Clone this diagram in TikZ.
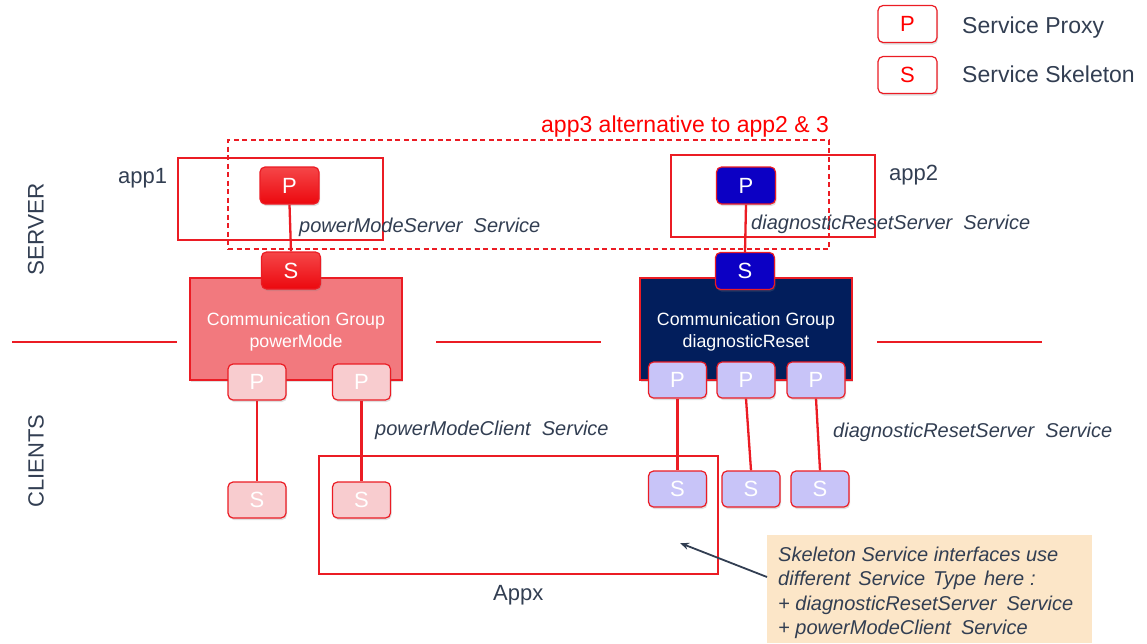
\documentclass[tikz,border=0pt]{standalone}
\usepackage{fontspec}
\setmainfont{Liberation Sans}
\usetikzlibrary{shadows,arrows.meta}
\definecolor{myred}{RGB}{235,28,36}
\definecolor{brightred}{RGB}{255,0,0}
\definecolor{slate}{RGB}{50,62,82}
\definecolor{salmon}{RGB}{242,121,126}
\definecolor{navy}{RGB}{2,30,92}
\definecolor{srvblue}{RGB}{12,0,196}
\definecolor{pinkc}{RGB}{248,204,207}
\definecolor{lavc}{RGB}{200,196,248}
\definecolor{peach}{RGB}{252,230,200}
\newcommand\gap[1]{\hspace{#1pt}}
\tikzset{
  pbox/.style={rectangle, rounded corners=5pt, minimum width=59pt, minimum height=37pt,
    draw=myred, line width=1.2pt, inner sep=0pt, text=white,
    font=\fontsize{22}{26}\selectfont,
    drop shadow={opacity=0.25, shadow xshift=1pt, shadow yshift=-2pt}},
  legbox/.style={pbox, fill=white, text=brightred},
  srvred/.style={pbox, top color={rgb,255:red,245;green,70;blue,72}, bottom color={rgb,255:red,236;green,8;blue,14}},
  srvblu/.style={pbox, fill=srvblue},
  clipink/.style={pbox, fill=pinkc, minimum width=58pt, minimum height=36pt},
  clilav/.style={pbox, fill=lavc, minimum width=58pt, minimum height=36pt},
  grp/.style={rectangle, draw=myred, line width=1.2pt, minimum width=212pt, minimum height=102pt,
    inner sep=0pt,
    drop shadow={opacity=0.25, shadow xshift=1pt, shadow yshift=-2pt}},
  grptext/.style={text=white, align=center, font=\fontsize{17.8}{22}\selectfont, inner sep=0pt},
  frame/.style={rectangle, draw=myred, line width=1.1pt, inner sep=0pt},
  conn/.style={draw=myred, line width=2.3pt},
  lbl/.style={anchor=base west, inner sep=0pt, text=slate, font=\fontsize{22}{26}\selectfont},
  ilbl/.style={anchor=base west, inner sep=0pt, text=slate, font=\fontsize{20}{24}\selectfont\itshape},
  sep/.style={draw=myred, line width=1.8pt}
}
\begin{document}
\begin{tikzpicture}[x=1pt,y=-1pt]
\useasboundingbox (0,0) rectangle (1147,643);
% legend
\node[legbox] (legP) at (907.5,24) {P};
\node[legbox] (legS) at (907.5,75) {S};
\node[lbl, font=\fontsize{23}{27}\selectfont] (legPt) at (962,33) {Service Proxy};
\node[lbl, font=\fontsize{23}{27}\selectfont] (legSt) at (962,82) {Service Skeleton};
% side labels
\node[rotate=90, text=slate, font=\fontsize{22.5}{26}\selectfont, inner sep=0pt] (srvlbl) at (36,229) {SERVER};
\node[rotate=90, text=slate, font=\fontsize{22}{26}\selectfont, inner sep=0pt] (clilbl) at (36,461) {CLIENTS};
% separators
\coordinate (s1a) at (12,342); \coordinate (s1b) at (177,342);
\coordinate (s2a) at (436,342); \coordinate (s2b) at (601,342);
\coordinate (s3a) at (877,342); \coordinate (s3b) at (1042,342);
\draw[sep] (s1a) -- (s1b);
\draw[sep] (s2a) -- (s2b);
\draw[sep] (s3a) -- (s3b);
% app frames
\node[frame, minimum width=205pt, minimum height=82pt] (app1) at (280.5,199) {};
\node[frame, minimum width=204pt, minimum height=82pt] (app2) at (773,196) {};
\node[frame, dashed, dash pattern=on 5pt off 3.5pt, minimum width=601pt, minimum height=109pt] (app3) at (528.5,194.5) {};
\node[lbl] (app1t) at (118,183) {app1};
\node[lbl] (app2t) at (889,180) {app2};
\node[lbl, text=brightred, font=\fontsize{23}{27}\selectfont] (app3t) at (541,132) {app3 alternative to app2 \& 3};
% groups
\node[grp, fill=salmon] (grpA) at (296,329) {};
\node[grp, fill=navy] (grpB) at (746,329) {};
\node[grptext] (grpAt) at (296,332) {Communication Group\\powerMode};
\node[grptext] (grpBt) at (746,332) {Communication Group\\diagnosticReset};
% appx frame
\node[frame, minimum width=399pt, minimum height=118pt] (appx) at (518.5,515) {};
\node[lbl] (appxt) at (493,600) {Appx};
% server boxes
\node[srvred] (sP1) at (289.5,185.5) {P};
\node[srvred] (sS1) at (291,270.5) {S};
\node[srvblu] (sP2) at (746,185.5) {P};
\node[srvblu] (sS2) at (745,271) {S};
% client boxes
\node[clipink] (cP1) at (257,382) {P};
\node[clipink] (cP2) at (361.5,382) {P};
\node[clipink] (cS1) at (257,500) {S};
\node[clipink] (cS2) at (361.5,500) {S};
\node[clilav] (dP1) at (677.5,380) {P};
\node[clilav] (dP2) at (746,380) {P};
\node[clilav] (dP3) at (816,380) {P};
\node[clilav] (dS1) at (677.5,489) {S};
\node[clilav] (dS2) at (751,489) {S};
\node[clilav] (dS3) at (820,489) {S};
% connectors
\draw[conn] (sP1.south) -- (sS1.north);
\draw[conn] (sP2.south) -- (sS2.north);
\draw[conn] (cP1.south) -- (cS1.north);
\draw[conn] (cP2.south) -- (cS2.north);
\draw[conn] (dP1.south) -- (dS1.north);
\draw[conn] (dP2.south) -- (dS2.north);
\draw[conn] (dP3.south) -- (dS3.north);
% service labels
\node[ilbl] (l1) at (299,232) {powerModeServer\ \ Service};
\node[ilbl] (l2) at (751,229) {diagnosticResetServer\ \ Service};
\node[ilbl] (l3) at (375,435) {powerModeClient\ \ Service};
\node[ilbl] (l4) at (833,437) {diagnosticResetServer\ \ Service};
% callout
\fill[peach] (767,535) rectangle (1092,643);
\node[ilbl] (c1) at (778,561) {Skeleton Service interfaces use};
\node[ilbl] (c2) at (778,585.5) {different\gap{8}Service\gap{8}Type\gap{8}here\gap{6}:};
\node[ilbl] (c3) at (778,610) {+ diagnosticResetServer\gap{10}Service};
\node[ilbl] (c4) at (778,634.5) {+ powerModeClient\gap{10}Service};
\coordinate (arrE) at (680,543);
\draw[draw=slate, line width=1.8pt, -{Stealth[length=9pt,width=7pt]}] (767,577) -- (arrE);
\end{tikzpicture}
\end{document}
